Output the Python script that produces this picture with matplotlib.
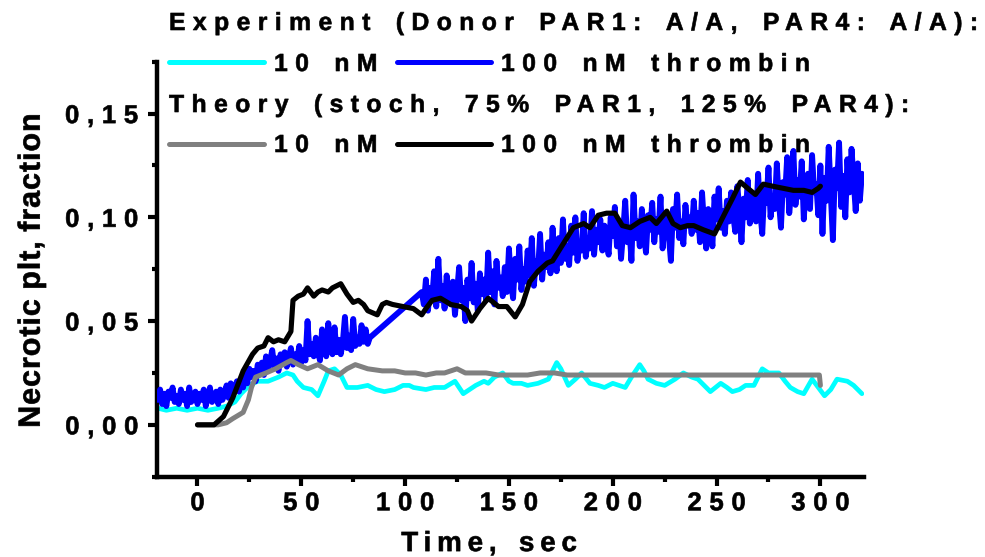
import numpy as np
import matplotlib
matplotlib.use("Agg")
import matplotlib.pyplot as plt
from matplotlib.lines import Line2D
from matplotlib.path import Path
from matplotlib.patheffects import AbstractPathEffect

# ---------------------------------------------------------------- data
# Experiment, 10 nM thrombin (time in s, fraction of necrotic platelets)
exp10_t = [-19, -15, -10, -5, 0, 5, 10, 14, 18, 21, 25, 29, 34, 39, 43, 46, 48,
           51, 55, 58, 61, 63, 66, 69, 72, 77, 82, 86, 90, 95, 99, 102, 104, 110,
           114, 119, 124, 128, 131, 134, 138, 140, 143, 147, 150, 152, 156, 159,
           164, 169, 171, 173, 175, 178.6, 182, 185, 189, 193, 196, 200, 203, 206,
           209, 213, 215, 217, 221, 225, 230, 234, 238, 241, 244, 247, 252, 255,
           257.6, 261, 264, 268, 272, 275, 280, 283, 285.5, 289, 292, 296, 299,
           302, 305, 308, 313, 316, 320]
exp10_y = [0.008, 0.007, 0.008, 0.007, 0.008, 0.007, 0.008, 0.009, 0.011, 0.015,
           0.019, 0.021, 0.021, 0.023, 0.025, 0.024, 0.021, 0.018, 0.017, 0.014,
           0.021, 0.026, 0.027, 0.024, 0.018, 0.018, 0.019, 0.017, 0.016, 0.017,
           0.019, 0.019, 0.018, 0.017, 0.018, 0.018, 0.021, 0.015, 0.017, 0.019,
           0.021, 0.020, 0.023, 0.025, 0.021, 0.020, 0.020, 0.019, 0.020, 0.022,
           0.026, 0.030, 0.027, 0.019, 0.022, 0.025, 0.020, 0.019, 0.018, 0.020,
           0.019, 0.018, 0.023, 0.029, 0.026, 0.022, 0.020, 0.019, 0.022, 0.025,
           0.023, 0.022, 0.019, 0.016, 0.020, 0.018, 0.016, 0.017, 0.019, 0.019,
           0.027, 0.025, 0.025, 0.021, 0.018, 0.016, 0.015, 0.022, 0.018, 0.014,
           0.017, 0.022, 0.021, 0.019, 0.015]

# Experiment, 100 nM thrombin: 1 s samples, two recorded stretches,
# values in units of 0.001
exp100_t_first = (-19, 83)
exp100_t_second = (108, 320)
exp100_permille = [
    12, 17, 10, 15, 9, 16, 13, 18, 11, 14,
    10, 17, 12, 15, 9, 18, 11, 14, 16, 10,
    15, 12, 17, 9, 14, 18, 11, 13, 16, 10,
    17, 12, 15, 19, 13, 20, 14, 18, 21, 16,
    22, 18, 25, 20, 27, 23, 26, 21, 29, 25,
    30, 24, 33, 27, 31, 36, 28, 32, 26, 34,
    30, 35, 28, 33, 37, 29, 34, 31, 38, 30,
    36, 31, 50, 34, 39, 33, 42, 35, 31, 46,
    37, 33, 49, 36, 34, 47, 35, 41, 34, 40,
    52, 37, 43, 36, 51, 38, 42, 39, 48, 40,
    46, 39, 42,
    # second stretch
    64, 58, 70, 55, 66, 61, 74, 57, 80, 60,
    67, 56, 72, 62, 58, 69, 53, 64, 76, 60,
    66, 50, 70, 61, 78, 59, 68, 55, 73, 63,
    70, 60, 83, 64, 74, 58, 79, 66, 71, 62,
    76, 64, 85, 68, 61, 80, 70, 86, 65, 75,
    69, 84, 72, 90, 67, 79, 74, 92, 70, 82,
    76, 88, 73, 95, 79, 74, 90, 78, 99, 80,
    86, 77, 96, 83, 100, 79, 88, 84, 102, 81,
    90, 85, 103, 82, 94, 88, 99, 84, 96, 89,
    82, 100, 91, 105, 86, 97, 80, 93, 108, 88,
    95, 79, 111, 90, 98, 86, 104, 92, 83, 101,
    94, 107, 88, 99, 93, 110, 85, 97, 102, 91,
    79, 104, 95, 111, 90, 98, 87, 106, 96, 100,
    92, 108, 94, 102, 88, 112, 96, 85, 104, 97,
    86, 110, 99, 114, 95, 103, 92, 108, 98, 112,
    101, 93, 115, 104, 88, 109, 100, 118, 97, 106,
    111, 98, 121, 103, 92, 114, 107, 124, 100, 110,
    104, 126, 108, 95, 117, 111, 129, 102, 113, 132,
    106, 118, 110, 127, 99, 115, 121, 104, 130, 112,
    116, 101, 125, 92, 119, 108, 134, 111, 89, 123,
    114, 136, 105, 120, 100, 128, 112, 133, 118, 103,
    126, 108, 121,
]

# Theory (stochastic model), 10 nM thrombin
th10_t = [0, 10, 14, 17, 22, 24.5, 26, 28, 33, 37.6, 43, 45, 48.6, 53, 58, 63,
          68, 72, 76, 82, 89, 95, 100, 105, 110, 115, 119, 125, 129, 134, 139,
          145, 152, 159, 165, 172, 178, 185, 195, 211, 230, 250, 270, 290,
          299.5, 300]
th10_y = [0.0, 0.0, 0.001, 0.003, 0.006, 0.012, 0.018, 0.023, 0.025, 0.027,
          0.030, 0.031, 0.029, 0.027, 0.029, 0.026, 0.024, 0.027, 0.029, 0.027,
          0.026, 0.026, 0.025, 0.025, 0.024, 0.025, 0.025, 0.027, 0.025, 0.025,
          0.025, 0.024, 0.024, 0.024, 0.025, 0.025, 0.024, 0.024, 0.024, 0.024,
          0.024, 0.024, 0.024, 0.024, 0.024, 0.019]

# Theory (stochastic model), 100 nM thrombin
th100_t = [0, 8, 12.5, 17, 22, 26.5, 29, 32, 34, 36.6, 39, 42, 45, 46, 48.5, 51,
           53, 56, 58, 60, 63, 65, 69, 72, 75, 77.5, 80, 82, 86.6, 89, 91, 94, 99,
           104, 108, 110, 113, 117, 122, 127, 130, 132, 136, 140, 145, 149, 153,
           156.5, 160, 164, 168.5, 171, 176, 181, 186, 189, 193, 197, 201, 204.6,
           208.5, 213, 218, 221, 226, 229, 232.5, 236, 239, 243.6, 249, 253,
           257.6, 261.5, 265, 268.7, 272.5, 277, 282, 287, 292, 296, 299, 300]
th100_y = [0.0, 0.0, 0.004, 0.013, 0.026, 0.034, 0.037, 0.038, 0.042, 0.040,
           0.041, 0.040, 0.045, 0.060, 0.062, 0.063, 0.066, 0.062, 0.064, 0.065,
           0.064, 0.066, 0.068, 0.063, 0.059, 0.060, 0.058, 0.055, 0.053, 0.058,
           0.059, 0.058, 0.057, 0.056, 0.053, 0.056, 0.060, 0.061, 0.058, 0.057,
           0.055, 0.050, 0.056, 0.061, 0.057, 0.057, 0.052, 0.058, 0.069, 0.074,
           0.078, 0.079, 0.087, 0.095, 0.097, 0.095, 0.101, 0.102, 0.102, 0.096,
           0.095, 0.098, 0.100, 0.097, 0.103, 0.097, 0.095, 0.096, 0.096, 0.094,
           0.092, 0.100, 0.109, 0.117, 0.114, 0.111, 0.116, 0.115, 0.114, 0.113,
           0.113, 0.112, 0.114, 0.115]

x_ticks = [0, 50, 100, 150, 200, 250, 300]
x_tick_labels = ["0", "50", "100", "150", "200", "250", "300"]
y_ticks = [0.0, 0.05, 0.10, 0.15]
y_tick_labels = ["0,00", "0,05", "0,10", "0,15"]

legend_header_exp = "Experiment (Donor PAR1: A/A, PAR4: A/A):"
legend_header_th = "Theory (stoch, 75% PAR1, 125% PAR4):"
legend_low = "10 nM"
legend_high = "100 nM thrombin"

CYAN, BLUE, GREY, BLACK = "#00FFFF", "#0000FF", "#808080", "#000000"


# ---------------------------------------------------------- text effect
class LetterSpacing(AbstractPathEffect):
    """Draw a text path with extra tracking between glyphs (in ems).

    frac is the share of the added width pushed to the left, so that
    left (0), centred (0.5) and right (1) aligned texts keep their anchor.
    A thin outline in the text colour makes the glyphs a little heavier.
    """

    def __init__(self, em=0.3, frac=0.0, space_steps=2.5, stroke=0.45):
        super().__init__()
        self.em = em
        self.frac = frac
        self.space_steps = space_steps
        self.stroke = stroke

    def draw_path(self, renderer, gc, tpath, affine, rgbFace=None):
        codes = tpath.codes
        verts = np.array(tpath.vertices, dtype=float)
        if codes is None or len(verts) == 0:
            renderer.draw_path(gc, tpath, affine, rgbFace)
            return
        unit = 100.0  # text paths are laid out at 100 units per em
        starts = list(np.flatnonzero(codes == Path.MOVETO)) + [len(verts)]
        contours = []
        for a, b in zip(starts[:-1], starts[1:]):
            keep = codes[a:b] != Path.CLOSEPOLY
            xs = verts[a:b][keep, 0]
            if len(xs):
                contours.append((float(xs.min()), float(xs.max()), a, b))
        contours.sort()
        step = 0.0
        lo_c = hi_c = None
        shifts = []
        for lo, hi, a, b in contours:
            if lo_c is None:
                lo_c, hi_c = lo, hi
            else:
                ov = min(hi, hi_c) - max(lo, lo_c)
                w = max(min(hi - lo, hi_c - lo_c), 1e-9)
                if ov > 0.3 * w:
                    hi_c = max(hi_c, hi)
                else:
                    step += self.space_steps if (lo - hi_c) > 0.31 * unit else 1
                    lo_c, hi_c = lo, hi
            shifts.append((a, b, step))
        total = step * self.em * unit
        for a, b, s in shifts:
            verts[a:b, 0] += s * self.em * unit - self.frac * total
        path = Path(verts, codes)
        gc2 = renderer.new_gc()
        gc2.copy_properties(gc)
        if rgbFace is not None and self.stroke > 0:
            gc2.set_foreground(rgbFace, isRGBA=len(rgbFace) == 4)
            gc2.set_linewidth(self.stroke)
            gc2.set_joinstyle("round")
        renderer.draw_path(gc2, path, affine, rgbFace)
        gc2.restore()


# ---------------------------------------------------------------- figure
plt.rcParams["font.family"] = ["Liberation Sans", "DejaVu Sans"]
plt.rcParams["font.weight"] = "bold"

W, H = 985, 557
fig = plt.figure(figsize=(W / 100, H / 100), dpi=100)
ax = fig.add_axes([157 / W, 80.3 / H, 707 / W, 415 / H])

exp100_t = np.concatenate([np.arange(exp100_t_first[0], exp100_t_first[1] + 1),
                           np.arange(exp100_t_second[0], exp100_t_second[1] + 1)])
exp100_y = np.asarray(exp100_permille, dtype=float) / 1000.0

line_kw = dict(solid_joinstyle="round", solid_capstyle="round")
ax.plot(exp10_t, exp10_y, color=CYAN, lw=3.4, zorder=2, **line_kw)
ax.plot(exp100_t, exp100_y, color=BLUE, lw=4.2, zorder=3, **line_kw)
ax.plot(th10_t, th10_y, color=GREY, lw=3.6, zorder=4, **line_kw)
ax.plot(th100_t, th100_y, color=BLACK, lw=3.7, zorder=5, **line_kw)

ax.set_xlim(-19.5, 321)
ax.set_ylim(-0.025, 0.175)

for side in ("top", "right"):
    ax.spines[side].set_visible(False)
for side in ("left", "bottom"):
    ax.spines[side].set_linewidth(3.2)
    ax.spines[side].set_capstyle("projecting")

ax.set_xticks(x_ticks, x_tick_labels)
ax.set_xticks([25, 75, 125, 175, 225, 275], minor=True)
ax.set_yticks(y_ticks, y_tick_labels)
ax.set_yticks([-0.025, 0.025, 0.075, 0.125, 0.175], minor=True)

ax.tick_params(which="both", direction="out", width=3.0, color="black")
ax.tick_params(which="major", length=6.5)
ax.tick_params(which="minor", length=3.6)
ax.tick_params(axis="y", which="major", labelsize=18.5, pad=7)
ax.tick_params(axis="x", which="major", labelsize=18.5, pad=4)

for tick in ax.yaxis.get_major_ticks():
    tick.label1.set_fontweight("bold")
    tick.label1.set_path_effects([LetterSpacing(0.3, 1.0)])
for tick in ax.xaxis.get_major_ticks():
    tick.label1.set_fontweight("bold")
    tick.label1.set_path_effects([LetterSpacing(0.3, 0.5)])

ax.set_xlabel("Time, sec", fontsize=20, fontweight="bold",
              path_effects=[LetterSpacing(0.21, 0.5)])
ax.xaxis.set_label_coords(0.4696, -0.131)
ax.set_ylabel("Necrotic plt, fraction", fontsize=22, fontweight="bold",
              path_effects=[LetterSpacing(0.03, 0.5, space_steps=1)])
ax.yaxis.set_label_coords(-0.156, 0.496)

# ---------------------------------------------------------------- legend
def fx(px):
    return px / W


def fy(py):
    return 1 - py / H


text_kw = dict(fontsize=17.8, fontweight="bold", ha="left", va="baseline",
               path_effects=[LetterSpacing(0.3, 0.0)])

fig.text(fx(169), fy(30), legend_header_exp, **text_kw)
fig.text(fx(169), fy(112), legend_header_th, **text_kw)

for y_line, y_base, c_low, c_high in ((62, 71, CYAN, BLUE),
                                      (144, 152, GREY, BLACK)):
    fig.add_artist(Line2D([fx(169), fx(264)], [fy(y_line)] * 2, color=c_low,
                          lw=3.6, solid_capstyle="round",
                          transform=fig.transFigure))
    fig.add_artist(Line2D([fx(397), fx(491)], [fy(y_line)] * 2, color=c_high,
                          lw=3.6, solid_capstyle="round",
                          transform=fig.transFigure))
    fig.text(fx(274), fy(y_base), legend_low, **text_kw)
    fig.text(fx(501), fy(y_base), legend_high, **text_kw)

fig.savefig("out.png", dpi=100)
